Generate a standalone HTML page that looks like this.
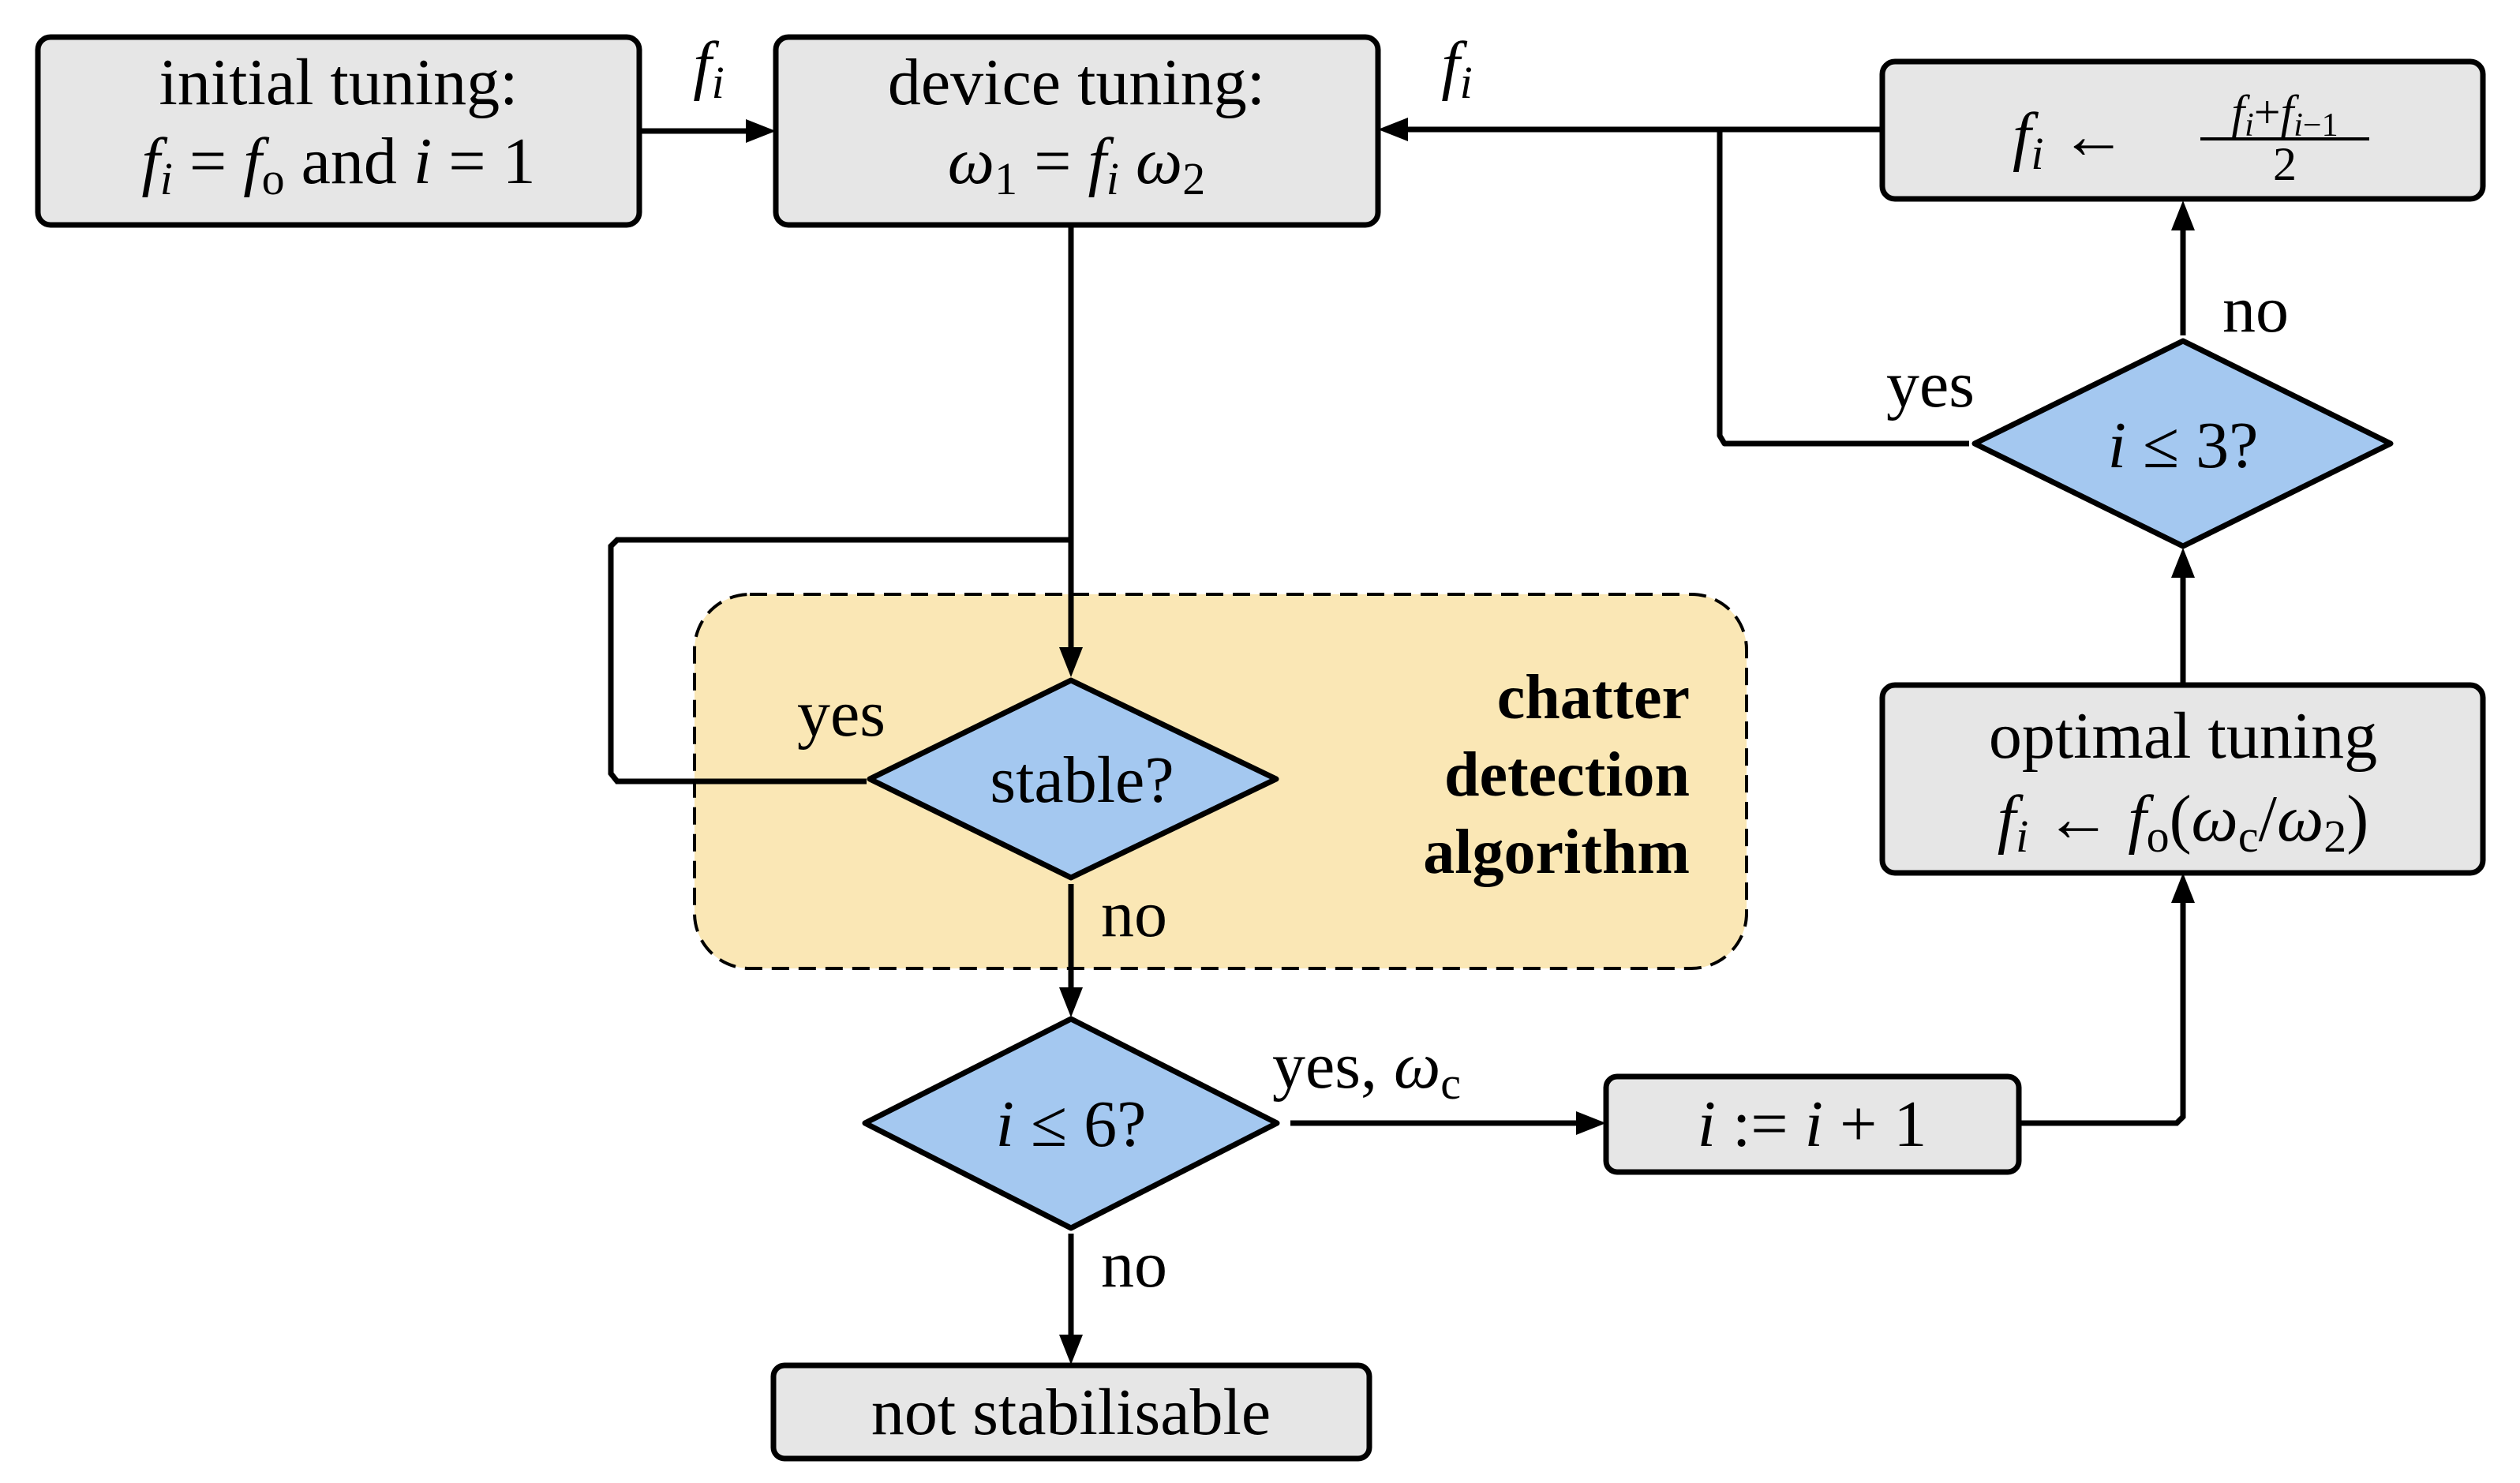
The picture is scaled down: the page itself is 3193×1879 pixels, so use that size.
<!DOCTYPE html>
<html><head><meta charset="utf-8"><style>
html,body{margin:0;padding:0;background:#fff}
svg{display:block}
text{font-family:"Liberation Serif",serif;fill:#000}
.t{font-size:84px;text-anchor:middle}
.i{font-style:italic}
</style></head><body>
<svg width="3193" height="1879" viewBox="0 0 3193 1879" xmlns="http://www.w3.org/2000/svg">
<rect x="880" y="753" width="1333" height="474" rx="70" fill="#fae7b5" stroke="#000" stroke-width="4" stroke-dasharray="22,12"/>
<g stroke="#000" stroke-width="7" fill="none">
<line x1="811" y1="166" x2="950" y2="166"/>
<line x1="2385" y1="164" x2="1780" y2="164"/>
<polyline points="2179,164 2179,552 2185,562 2495,562" stroke-linejoin="round"/>
<line x1="1357" y1="285" x2="1357" y2="825"/>
<polyline points="1357,684 782,684 774,692 774,980 782,990 1098,990"/>
<line x1="1357" y1="1120" x2="1357" y2="1255"/>
<line x1="1635" y1="1423" x2="2000" y2="1423"/>
<polyline points="2558,1423 2758,1423 2766,1415 2766,1140"/>
<line x1="2766" y1="867" x2="2766" y2="728"/>
<line x1="2766" y1="425" x2="2766" y2="288"/>
<line x1="1357" y1="1563" x2="1357" y2="1695"/>
</g>
<g fill="#000">
<polygon points="983,166 945,151 945,181"/>
<polygon points="1746,164 1784,149 1784,179"/>
<polygon points="1357,858 1342,820 1372,820"/>
<polygon points="1357,1289 1342,1251 1372,1251"/>
<polygon points="2035,1423 1997,1408 1997,1438"/>
<polygon points="2766,1106 2751,1144 2781,1144"/>
<polygon points="2766,694 2751,732 2781,732"/>
<polygon points="2766,254 2751,292 2781,292"/>
<polygon points="1357,1729 1342,1691 1372,1691"/>
</g>
<g fill="#e6e6e6" stroke="#000" stroke-width="7">
<rect x="48" y="47" width="762" height="238" rx="16"/>
<rect x="983" y="47" width="763" height="238" rx="16"/>
<rect x="2385" y="78" width="761" height="174" rx="16"/>
<rect x="2385" y="868" width="761" height="238" rx="16"/>
<rect x="2035" y="1364" width="523" height="121" rx="14"/>
<rect x="980" y="1730" width="755" height="118" rx="14"/>
</g>
<g fill="#a4c8f0" stroke="#000" stroke-width="7" stroke-linejoin="round">
<polygon points="1357,862 1617,987 1357,1112 1102,987"/>
<polygon points="1357,1291 1618,1423 1357,1556 1096,1423"/>
<polygon points="2766,432 3029,562 2766,692 2502,562"/>
</g>
<text class="t" x="429" y="132">initial tuning:</text>
<text class="t" x="429" y="232"><tspan class="i">f</tspan><tspan class="i" font-size="58" dy="14">i</tspan><tspan dy="-14"> = </tspan><tspan class="i">f</tspan><tspan font-size="58" dy="14">o</tspan><tspan dy="-14"> and </tspan><tspan class="i">i</tspan> = 1</text>
<text class="t i" x="898" y="110">f<tspan font-size="58" dy="14">i</tspan></text>
<text class="t" x="1364" y="132">device tuning:</text>
<text class="t" x="1364" y="232"><tspan class="i">ω</tspan><tspan font-size="58" dy="14">1</tspan><tspan dy="-14">  =  </tspan><tspan class="i">f</tspan><tspan class="i" font-size="58" dy="14">i</tspan><tspan class="i" dy="-14"> ω</tspan><tspan font-size="58" dy="14">2</tspan></text>
<text class="t i" x="1846" y="110">f<tspan font-size="58" dy="14">i</tspan></text>
<text x="2550" y="200" font-size="84"><tspan class="i">f</tspan><tspan class="i" font-size="58" dy="14">i</tspan><tspan dy="-14">  ←</tspan></text>
<text x="2895" y="162" font-size="60" text-anchor="middle"><tspan class="i">f</tspan><tspan class="i" font-size="42" dy="10">i</tspan><tspan dy="-10">+</tspan><tspan class="i">f</tspan><tspan class="i" font-size="42" dy="10">i</tspan><tspan font-size="42">−1</tspan></text>
<line x1="2788" y1="176" x2="3002" y2="176" stroke="#000" stroke-width="4"/>
<text x="2895" y="228" font-size="60" text-anchor="middle">2</text>
<text class="t" x="2446" y="515">yes</text>
<text class="t" x="2858" y="420">no</text>
<text class="t" x="2766" y="592"><tspan class="i">i</tspan> ≤ 3?</text>
<text class="t" x="2766" y="960">optimal tuning</text>
<text class="t" x="2766" y="1065"><tspan class="i">f</tspan><tspan class="i" font-size="58" dy="14">i</tspan><tspan dy="-14"> ← </tspan><tspan class="i">f</tspan><tspan font-size="58" dy="14">o</tspan><tspan dy="-14">(</tspan><tspan class="i">ω</tspan><tspan font-size="58" dy="14">c</tspan><tspan dy="-14">/</tspan><tspan class="i">ω</tspan><tspan font-size="58" dy="14">2</tspan><tspan dy="-14">)</tspan></text>
<g font-weight="bold" font-size="80" text-anchor="end">
<text x="2141" y="910">chatter</text>
<text x="2141" y="1008">detection</text>
<text x="2141" y="1106">algorithm</text>
</g>
<text class="t" x="1066" y="932">yes</text>
<text class="t" x="1371" y="1016">stable?</text>
<text x="1395" y="1186" font-size="84">no</text>
<text class="t" x="1357" y="1452"><tspan class="i">i</tspan> ≤ 6?</text>
<text x="1612" y="1378" font-size="84">yes, <tspan class="i">ω</tspan><tspan font-size="58" dy="14">c</tspan></text>
<text class="t" x="2296" y="1452"><tspan class="i">i</tspan> := <tspan class="i">i</tspan> + 1</text>
<text x="1395" y="1630" font-size="84">no</text>
<text class="t" x="1357" y="1817">not stabilisable</text>
</svg>
</body></html>
